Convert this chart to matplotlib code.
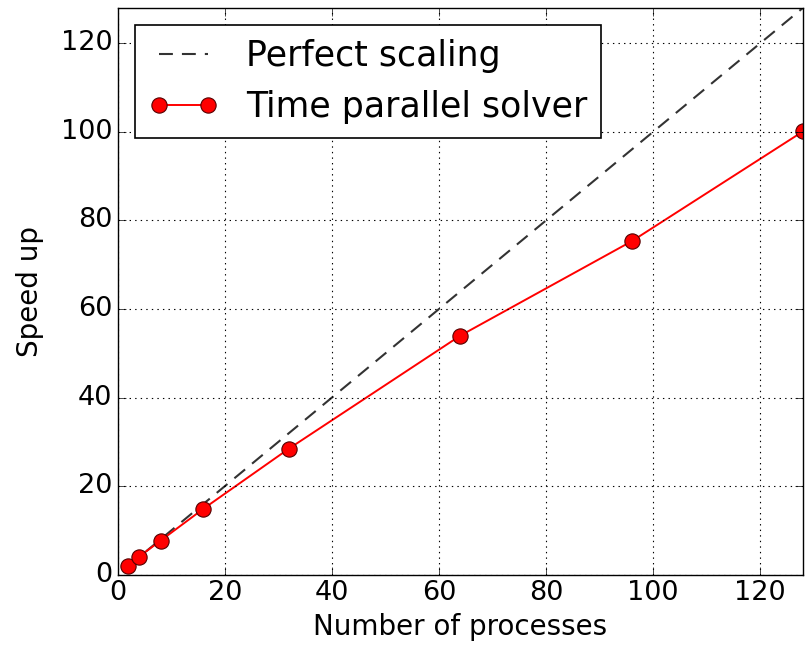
import matplotlib
matplotlib.use("Agg")
import matplotlib.pyplot as plt

procs = [2, 4, 8, 16, 32, 64, 96, 128]
speedup = [2.0, 4.1, 7.7, 14.9, 28.5, 54.0, 75.3, 100.1]

plt.style.use("classic")
fig = plt.figure(figsize=(8.12, 6.48), dpi=100)
fig.patch.set_facecolor("white")
ax = fig.add_axes([0.145, 0.113, 0.844, 0.875])

ax.plot(procs, procs, "k--", lw=1.5, alpha=0.8, dashes=(10, 6.5),
        label="Perfect scaling")
ax.plot(procs, speedup, "r-o", lw=1.4, markersize=11, markeredgecolor="#550000",
        markeredgewidth=0.8, label="Time parallel solver")

ax.set_xlim(0, 128)
ax.set_ylim(0, 128)
ax.set_xticks([0, 20, 40, 60, 80, 100, 120])
ax.set_yticks([0, 20, 40, 60, 80, 100, 120])
ax.grid(True, color="k", linestyle=":", lw=0.8)
ax.tick_params(labelsize=19.5, direction="in", length=6)
ax.set_xlabel("Number of processes", fontsize=20)
ax.set_ylabel("Speed up", fontsize=20, labelpad=12)

leg = ax.legend(loc="upper left", fontsize=25, numpoints=2, fancybox=False,
                handlelength=2.0, borderaxespad=0.5)
leg.get_frame().set_linewidth(1.2)

fig.savefig("out.png", dpi=100, facecolor="white")
